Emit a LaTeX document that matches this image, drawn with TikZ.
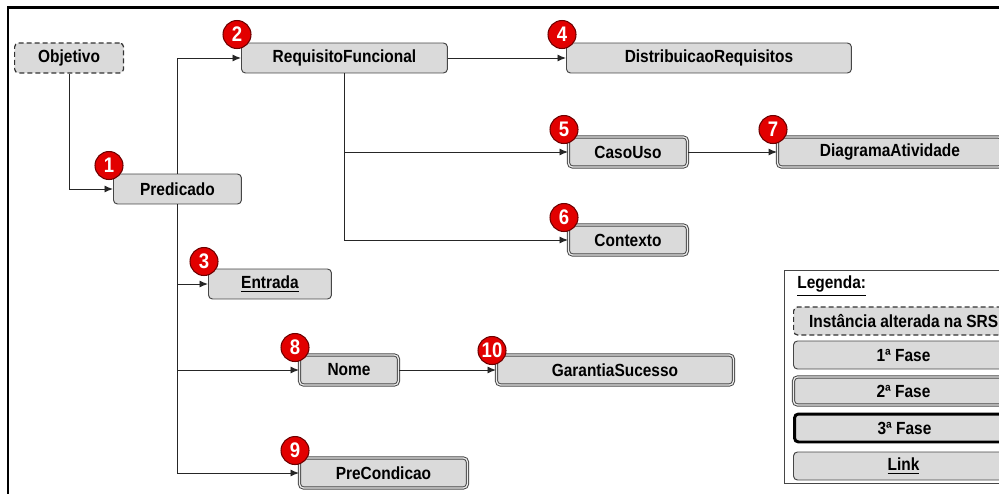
\documentclass[tikz,border=0pt]{standalone}
\usepackage{fontspec}
\setmainfont{Liberation Sans}
\newfontfamily\boxfont[FakeStretch=0.88]{Liberation Sans}
\usetikzlibrary{arrows.meta}
\definecolor{boxgray}{RGB}{218,218,218}
\definecolor{edgegray}{RGB}{70,70,70}
\definecolor{badgered}{RGB}{226,0,0}
\definecolor{badgeedge}{RGB}{110,0,0}
\newcommand{\heightbox}{6mm}
\newcommand{\heightlegend}{5.6mm}
\newcommand{\widthlegend}{4.4cm}
\tikzset{
    common/.style={anchor=west, draw=edgegray, fill=boxgray, rectangle, rounded corners=0.8mm, line width=0.55pt, minimum height=\heightbox, inner sep=1pt, font=\boxfont\fontsize{10}{12}\selectfont\bfseries},
    changed/.style={common, draw=black!80, line width=0.7pt, dash pattern=on 1mm off 0.6mm},
    phaseone/.style={common},
    phasetwo/.style={common, double=boxgray!50!white, double distance=0.7pt},
    phasethree/.style={common, draw=black, line width=1.7pt},
    legenditem/.style={minimum width=\widthlegend, minimum height=\heightlegend},
    badge/.style={circle, draw=badgeedge, fill=badgered, text=white, inner sep=0pt, minimum size=5.6mm, line width=0.6pt, font=\boxfont\fontsize{12}{12}\selectfont\bfseries},
    conn/.style={draw=black!85, line width=0.55pt, -{Latex[length=1.7mm, width=1.4mm]}}
}
\begin{document}
\begin{tikzpicture}[x=0.02cm, y=-0.02cm]
        \useasboundingbox (0,0) rectangle (999,493);
        \clip (0,0) rectangle (999,493);
        \draw[line width=0.06cm] (8,8) rectangle (1012,510);

        \path (14,58) node[changed, minimum width=2.18cm] (objetivo) {Objetivo}
            to ++(227,0) node[phaseone, minimum width=4.12cm] (requisito) {RequisitoFuncional}
            to ++(325,0) node[phaseone, minimum width=5.7cm] (distribuicao) {DistribuicaoRequisitos};

        \path (568,152) node[phasetwo, minimum width=2.38cm] (casouso) {CasoUso}
            to ++(209,0) node[phasetwo, minimum width=4.5cm] (diagrama) {DiagramaAtividade};

        \path (113,189) node[phaseone, minimum width=2.56cm] (predicado) {Predicado};
        \path (568,240) node[phasetwo, minimum width=2.38cm] (contexto) {Contexto};
        \path (208,284) node[phaseone, minimum width=2.46cm] (entrada) {\underline{Entrada}};

        \path (299,370) node[phasetwo, minimum width=1.98cm] (nome) {Nome}
            to ++(197,0) node[phasetwo, minimum width=4.74cm] (garantia) {GarantiaSucesso};

        \path (299,473) node[phasetwo, minimum width=3.36cm] (precondicao) {PreCondicao};

        \draw[conn] (objetivo.south) |- (predicado.west);
        \draw[conn] (predicado.north) |- (requisito.west);
        \draw[conn] (predicado.south) |- (entrada.west);
        \draw[conn] (predicado.south) |- (nome.west);
        \draw[conn] (predicado.south) |- (precondicao.west);
        \draw[conn] (requisito.east) -- (distribuicao.west);
        \draw[conn] (requisito.south) |- (casouso.west);
        \draw[conn] (requisito.south) |- (contexto.west);
        \draw[conn] (casouso.east) -- (diagrama.west);
        \draw[conn] (nome.east) -- (garantia.west);

        \node[badge] (num1) at ([shift={(-4,-8)}]predicado.north west) {1};
        \node[badge] (num2) at ([shift={(-4,-8)}]requisito.north west) {2};
        \node[badge] (num3) at ([shift={(-4,-7)}]entrada.north west) {3};
        \node[badge] (num4) at ([shift={(-4,-8)}]distribuicao.north west) {4};
        \node[badge] (num5) at ([shift={(-4,-7)}]casouso.north west) {5};
        \node[badge] (num6) at ([shift={(-4,-7)}]contexto.north west) {6};
        \node[badge] (num7) at ([shift={(-4,-7)}]diagrama.north west) {7};
        \node[badge] (num8) at ([shift={(-4,-7)}]nome.north west) {8};
        \node[badge] (num9) at ([shift={(-4,-7)}]precondicao.north west) {9};
        \node[badge] (num10) at ([shift={(-4,-4)}]garantia.north west) {10};

        \draw[edgegray, line width=0.5pt] (784,270) rectangle (1030,483);
        \node[anchor=west, inner sep=0pt, font=\boxfont\fontsize{10}{12}\selectfont\bfseries] (legenda) at (797,286) {\underline{Legenda:}};
        \path (793,321) node[changed, legenditem] (legalterada) {Instância alterada na SRS}
            to ++(0,34) node[phaseone, legenditem] (legfase1) {1ª Fase}
            to ++(0,36) node[phasetwo, legenditem] (legfase2) {2ª Fase}
            to ++(0,37) node[phasethree, legenditem] (legfase3) {3ª Fase}
            to ++(0,38) node[phaseone, legenditem] (leglink) {\underline{Link}};
    \end{tikzpicture}
\end{document}
